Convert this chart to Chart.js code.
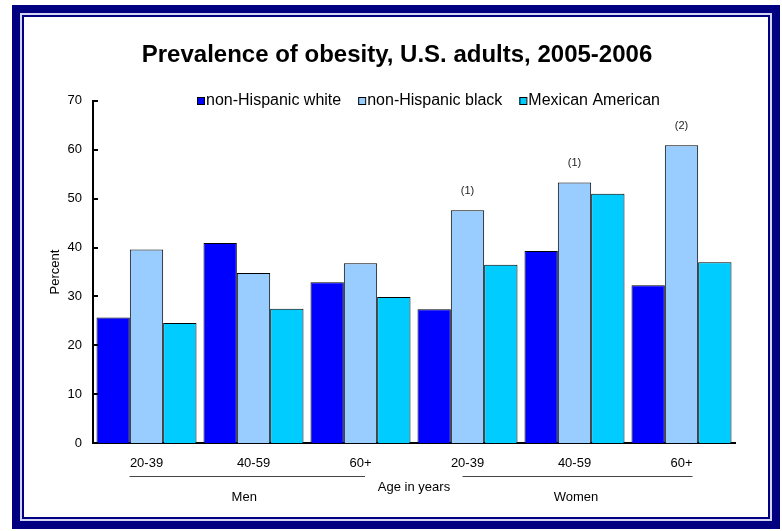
<!DOCTYPE html>
<html>
<head>
<meta charset="utf-8">
<title>Prevalence of obesity, U.S. adults, 2005-2006</title>
<script src="https://cdn.jsdelivr.net/npm/chart.js@4.4.1/dist/chart.umd.min.js"></script>
<style>
  html, body { margin: 0; padding: 0; background: #fff; }
  .wrap { position: relative; width: 782px; height: 531px; overflow: hidden; }
  .frame-outer {
    position: absolute; left: 12px; top: 5px; width: 768px; height: 524px;
    box-sizing: border-box; border: 8px solid #000080; background: #d4d4f4; padding: 2px;
  }
  .frame-inner {
    width: 100%; height: 100%; box-sizing: border-box;
    border: 2px solid #000080; background: #fff;
  }
  #obesity-chart { position: absolute; left: 0; top: 0; }
</style>
</head>
<body>
<div class="wrap">
  <div class="frame-outer"><div class="frame-inner"></div></div>
  <canvas id="obesity-chart" width="782" height="531"></canvas>
</div>
<script>
  // Data
  var categories = ["20-39", "40-59", "60+", "20-39", "40-59", "60+"];
  var sexes = ["Men", "Women"];
  var seriesNames = ["non-Hispanic white", "non-Hispanic black", "Mexican American"];
  var whiteValues = [25.7, 40.9, 32.9, 27.4, 39.3, 32.3];
  var blackValues = [39.6, 34.8, 36.8, 47.6, 53.3, 60.9];
  var mexicanValues = [24.6, 27.5, 29.9, 36.5, 51.0, 37.0];
  var blackNotes = ["", "", "", "(1)", "(1)", "(2)"];
  var yMin = 0, yMax = 70, yStep = 10;

  var FONT = "'Liberation Sans', Arial, sans-serif";
  Chart.defaults.font.family = FONT;
  Chart.defaults.font.size = 13;
  Chart.defaults.color = "#000";

  // Title, legend, notes, inner ticks and the Men / Women brackets
  var extras = {
    id: "extras",
    afterDraw: function (chart) {
      var ctx = chart.ctx;
      var x = chart.scales.x;
      var y = chart.scales.y;
      ctx.save();

      // title
      ctx.fillStyle = "#000";
      ctx.font = "bold 24px " + FONT;
      ctx.textAlign = "center";
      ctx.textBaseline = "middle";
      ctx.fillText("Prevalence of obesity, U.S. adults, 2005-2006", 397, 55);

      // legend
      ctx.font = "16px " + FONT;
      ctx.textAlign = "left";
      var lx = 197;
      chart.data.datasets.forEach(function (ds) {
        ctx.fillStyle = ds.backgroundColor;
        ctx.fillRect(lx, 97, 7, 8);
        ctx.strokeStyle = "#000";
        ctx.lineWidth = 1;
        ctx.strokeRect(lx + 0.5, 97.5, 7, 7);
        ctx.fillStyle = "#000";
        ctx.fillText(ds.label, lx + 9, 101);
        lx += 9 + ctx.measureText(ds.label).width + 17;
      });

      // notes above the non-Hispanic black bars
      ctx.font = "11px " + FONT;
      ctx.textAlign = "center";
      ctx.fillStyle = "#222";
      var meta = chart.getDatasetMeta(1);
      blackNotes.forEach(function (note, i) {
        if (!note) return;
        var bar = meta.data[i];
        ctx.fillText(note, bar.x, bar.y - 19.5);
      });

      // y tick marks on the inside of the axis
      ctx.strokeStyle = "#000";
      ctx.lineWidth = 2;
      y.ticks.forEach(function (t) {
        var py = Math.round(y.getPixelForValue(t.value));
        ctx.beginPath();
        ctx.moveTo(y.right, py);
        ctx.lineTo(y.right + 5, py);
        ctx.stroke();
      });

      // Men / Women brackets
      var spans = [
        { from: 0, to: 2, x0: -17, x1: 4.5 },
        { from: 3, to: 5, x0: -5, x1: 11 }
      ];
      ctx.strokeStyle = "#444";
      ctx.lineWidth = 1;
      ctx.fillStyle = "#000";
      ctx.font = "13px " + FONT;
      spans.forEach(function (s, i) {
        var a = x.getPixelForValue(s.from) + s.x0;
        var b = x.getPixelForValue(s.to) + s.x1;
        ctx.beginPath();
        ctx.moveTo(a, 476.5);
        ctx.lineTo(b, 476.5);
        ctx.stroke();
        ctx.fillText(sexes[i], (a + b) / 2 - (i === 0 ? 3 : 1.5), 497);
      });

      ctx.restore();
    }
  };

  // Grouped Bar Chart
  var ctx1 = document.getElementById("obesity-chart").getContext("2d");
  var myChart1 = new Chart(ctx1, {
    type: "bar",
    data: {
      labels: categories,
      datasets: [
        { label: seriesNames[0], data: whiteValues, backgroundColor: "#0000FF" },
        { label: seriesNames[1], data: blackValues, backgroundColor: "#99CCFF" },
        { label: seriesNames[2], data: mexicanValues, backgroundColor: "#00CCFF" }
      ]
    },
    options: {
      responsive: false,
      animation: false,
      devicePixelRatio: 1,
      layout: { padding: { left: 0, right: 47, top: 100.7, bottom: 0 } },
      datasets: {
        bar: {
          borderColor: "#000",
          borderWidth: 1,
          categoryPercentage: 100 / 107,
          barPercentage: 1
        }
      },
      plugins: {
        legend: { display: false },
        title: { display: false },
        tooltip: { enabled: false }
      },
      scales: {
        x: {
          grid: { display: false, drawTicks: false },
          border: { display: true, color: "#000", width: 2 },
          ticks: { padding: 12, maxRotation: 0, autoSkip: false, font: { size: 13 } },
          title: { display: true, text: "Age in years", padding: { top: 0, bottom: 36.2 }, font: { size: 13 } },
          afterFit: function (scale) { scale.height = 87.7; }
        },
        y: {
          min: yMin,
          max: yMax,
          grid: { display: false, drawTicks: false },
          border: { display: true, color: "#000", width: 2 },
          ticks: { stepSize: yStep, padding: 11, font: { size: 13 } },
          title: { display: true, text: "Percent", padding: { top: 47.2, bottom: 0 }, font: { size: 13 } },
          afterFit: function (scale) { scale.width = 93; }
        }
      }
    },
    plugins: [extras]
  });
</script>
</body>
</html>
